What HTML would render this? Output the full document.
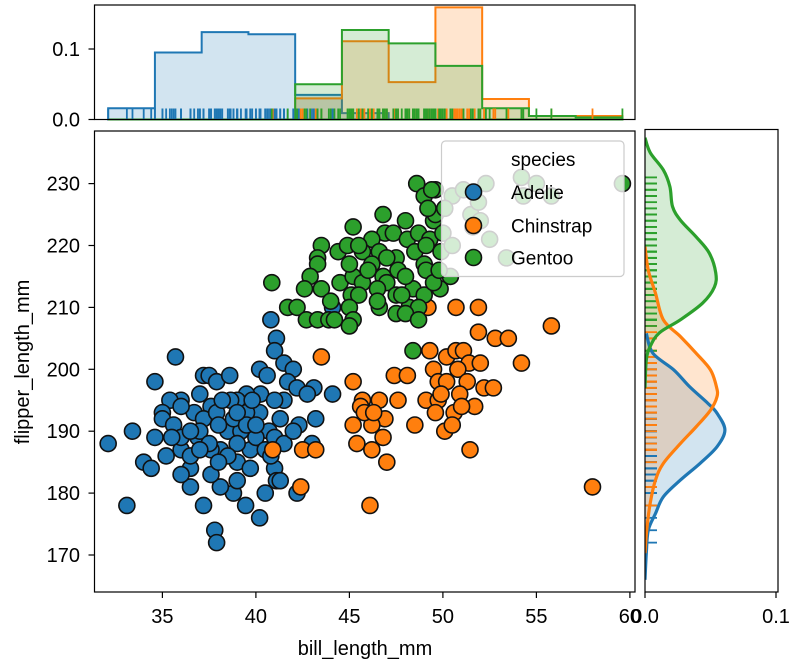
<!DOCTYPE html>
<html><head><meta charset="utf-8"><style>
html,body{margin:0;padding:0;background:#fff;}
svg{display:block;font-family:"Liberation Sans",Arial,sans-serif;}
</style></head><body>
<svg id="chart" width="799" height="666" viewBox="0 0 799 666"></svg>
<script>
// ---- data ----
const adelieX=[32.1,33.1,33.4,34.6,35.7,37.2,37.5,37.9,38.6,40.2,40.6,40.8,41.1,41.0,41.5,42.0,41.7,42.2,43.1,44.1,42.75,41.5,40.25,39.5,39.0,38.65,37.6,36.7,36.0,35.4,35.0,35.0,35.6,34.6,34.0,34.4,35.2,36.0,36.9,37.2,37.9,38.5,39.2,38.1,39.0,39.7,40.7,40.2,41.3,42.3,43.2,41.0,41.1,40.5,40.2,39.45,38.8,38.1,37.6,36.5,36.5,37.2,37.8,37.9,39.7,36.5,37.6,38.8,39.5,41.0,44.1,42.2,41.3,37,38,39,40,36,37.5,38.5,39.5,40.5,36.5,37,38,39,40,41,35.5,36,39.8,38.2,37,40.8,41.5,42,43,39,36];
const adelieY=[188,178,190,198,202,199,199,198,199,200,199,208,205,203,201,200,198,197,197,196,196,195,196,196,195,195,194,193,195,195,193,192,191,189,185,184,186,187,189,192,193,190,190,187,185,184,190,193,192,191,192,184,182,180,176,178,180,181,183,184,181,178,174,172,187,186,187,192,193,195,210,180,182,190,191,188,189,189,188,186,191,187,190,187,185,193,191,189,189,194,195,195,196,186,188,190,188,182,183];
const chinX=[50.7,51.9,49.2,55.8,51.9,52.8,53.5,54.2,43.5,49.3,50.2,50.7,51.1,51.4,52.0,49.5,50.8,47.4,48.1,45.2,49.75,50.2,51.3,52.2,52.7,45.7,46.6,47.6,49.1,49.75,50.9,51.7,49.6,50.6,45.6,46.9,45.2,46.2,48.5,46.8,45.4,46.2,47.0,50.1,51.45,42.5,43.2,42.4,46.1,58.0,50.5,51,49.9,45.8,46.3,40.9];
const chinY=[210,210,210,207,206,205,205,201,202,203,202,203,203,201,201,200,200,199,199,198,198,198,198,197,197,195,195,195,195,195,196,194,193,193,194,192,191,191,191,189,188,187,185,190,187,187,187,181,178,181,191,194,196,193,193,187];
const gentooX=[48.6,49.0,49.6,49.5,49.6,45.2,43.5,46.9,47.35,46.2,48.1,48.7,49.3,44.4,44.9,45.7,46.6,48.5,49.1,43.3,43.3,46.2,47.5,47.6,49.0,49.1,42.9,44.5,45.2,46.8,47.0,45.7,42.6,43.5,46.5,48.4,49.85,40.85,45.1,45.5,47.5,49.0,41.7,42.2,45.0,46.6,48.2,48.7,42.7,43.3,43.9,44.2,45.2,47.5,48.0,48.7,45.0,50.5,51.1,51.5,51.6,52.0,52.5,53.4,51.9,52.3,54.3,50.1,50.0,49.9,50.5,59.6,54.2,55.0,55.8,48.4,46,47,48,45,46.5,47.8,44,45.5,48,49.5,50.4,46.8,49.8,49.2,49.4];
const gentooY=[230,228,229,224,225,223,220,222,222,221,221,222,221,219,220,219,219,219,220,218,217,217,218,216,217,216,215,214,215,215,214,214,213,213,213,213,213,214,212,212,212,212,210,210,210,210,210,210,208,208,208,208,208,209,209,208,207,228,229,225,223,224,221,218,227,230,228,226,222,219,220,230,231,230,228,203,216,218,215,217,211,212,211,220,224,214,215,225,216,226,229];
const histEdges=[32.1,34.6,37.1,39.6,42.1,44.6,47.1,49.6,52.1,54.6,57.1,59.6];
const adelieHist=[0.016,0.095,0.124,0.121,0.035,0.009,0,0,0,0,0];
const chinHist=[0,0,0,0,0.030,0.111,0.053,0.159,0.029,0.005,0.005];
const gentooHist=[0,0,0,0,0.050,0.127,0.108,0.076,0.016,0.005,0.003];
const adelieKdeY=[166,170.3,174,176.7,179.4,182.1,184.8,187.5,190.2,192.9,194.5,197.2,199.9,202.6,205.8];
const adelieKdeD=[0,0.001,0.0025,0.008,0.014,0.027,0.042,0.055,0.061,0.055,0.048,0.034,0.022,0.006,0.001];
const chinKdeY=[170.3,174,178.4,182.1,184.8,188,190.7,193.4,195.6,197.2,199.9,202.6,205.3,208,212.3,216,219.8];
const chinKdeD=[0,0.0013,0.004,0.008,0.014,0.027,0.039,0.050,0.055,0.0545,0.050,0.039,0.027,0.014,0.008,0.0025,0];
const gentooKdeY=[197,201.5,203.7,205.9,208,210.7,213.3,215.6,218.8,221.4,224.1,226.3,229.5,232.2,235,237.4];
const gentooKdeD=[0,0.001,0.004,0.011,0.027,0.044,0.053,0.054,0.049,0.039,0.027,0.021,0.019,0.014,0.004,0];
const xTicks=[35,40,45,50,55,60];
const yTicks=[170,180,190,200,210,220,230];
const histTicks=[0.0,0.1];
const kdeTicks=[0.0,0.1];
const speciesNames=["Adelie","Chinstrap","Gentoo"];

// ---- scales ----
const X=v=>162.4+(v-35)*18.7;
const Y=v=>555-(v-170)*6.19;
const YH=d=>119.5-d*705;
const XK=d=>645+d*1310;
const colors=["#1f77b4","#ff7f0e","#2ca02c"];
const NS="http://www.w3.org/2000/svg";
const svg=document.getElementById("chart");
function mk(tag,attrs,parent){const e=document.createElementNS(NS,tag);for(const k in attrs)e.setAttribute(k,attrs[k]);(parent||svg).appendChild(e);return e;}
function smooth(p){
  let d="M"+p[0][0]+","+p[0][1];
  for(let i=0;i<p.length-1;i++){
    const p0=p[i-1]||p[i],p1=p[i],p2=p[i+1],p3=p[i+2]||p2;
    const c1=[p1[0]+(p2[0]-p0[0])/6,p1[1]+(p2[1]-p0[1])/6];
    const c2=[p2[0]-(p3[0]-p1[0])/6,p2[1]-(p3[1]-p1[1])/6];
    d+=" C"+c1[0]+","+c1[1]+" "+c2[0]+","+c2[1]+" "+p2[0]+","+p2[1];
  }
  return d;
}

const defs=mk("defs",{});
const cp=mk("clipPath",{id:"mainclip"},defs);
mk("rect",{x:94.5,y:131,width:540.5,height:461},cp);
const cpk=mk("clipPath",{id:"kdeclip"},defs);
mk("rect",{x:645,y:129.5,width:133,height:462.5},cpk);

// ---- top histogram ----
const topG=mk("g",{});


[adelieHist,chinHist,gentooHist].forEach((h,si)=>{
  let d="M"+X(histEdges[0])+","+YH(0);
  for(let i=0;i<h.length;i++){d+=" L"+X(histEdges[i])+","+YH(h[i])+" L"+X(histEdges[i+1])+","+YH(h[i]);}
  d+=" L"+X(histEdges[h.length])+","+YH(0)+" Z";
  const p=mk("path",{d:d,fill:colors[si],"fill-opacity":0.2,stroke:colors[si],"stroke-width":2},topG);
  
  
});
[adelieX,chinX,gentooX].forEach((arr,si)=>{
  arr.forEach(v=>{
    const l=mk("line",{x1:X(v),x2:X(v),y1:119.5,y2:108.5,stroke:colors[si],"stroke-width":1.8},topG);
    
    
  });
});
const topFrame=mk("rect",{x:94.5,y:5,width:540.5,height:114.5,fill:"none",stroke:"#000","stroke-width":1.2});


histTicks.forEach(t=>{
  mk("line",{x1:88.5,x2:94.5,y1:YH(t),y2:YH(t),stroke:"#000","stroke-width":1.2});
  const tx=mk("text",{x:80,y:YH(t)+7,"text-anchor":"end","font-size":20});
  tx.textContent=t.toFixed(1);
  
  
});

// ---- right KDE ----
const kG=mk("g",{"clip-path":"url(#kdeclip)"});


const kdeSets=[[adelieKdeY,adelieKdeD],[chinKdeY,chinKdeD],[gentooKdeY,gentooKdeD]];
kdeSets.forEach((c,si)=>{
  const pts=c[0].map((v,i)=>[XK(c[1][i]),Y(v)]);
  const f=mk("path",{d:smooth(pts)+" L"+XK(0)+","+Y(c[0][c[0].length-1])+" L"+XK(0)+","+Y(c[0][0])+" Z",fill:colors[si],"fill-opacity":0.2,stroke:"none"},kG);
  
  
});
[adelieY,chinY,gentooY].forEach((arr,si)=>{
  arr.forEach(v=>{
    const l=mk("line",{x1:645,x2:657,y1:Y(v),y2:Y(v),stroke:colors[si],"stroke-width":1.8},kG);
    
    
  });
});
kdeSets.forEach((c,si)=>{
  const pts=c[0].map((v,i)=>[XK(c[1][i]),Y(v)]);
  const l=mk("path",{d:smooth(pts),fill:"none",stroke:colors[si],"stroke-width":3.2,"stroke-linejoin":"round"},kG);
  
  
});
const rFrame=mk("rect",{x:645,y:129.5,width:133,height:462.5,fill:"none",stroke:"#000","stroke-width":1.2});


kdeTicks.forEach(t=>{
  mk("line",{x1:XK(t),x2:XK(t),y1:592,y2:598,stroke:"#000","stroke-width":1.2});
  const tx=mk("text",{x:XK(t),y:623,"text-anchor":"middle","font-size":20});
  tx.textContent=t.toFixed(1);
  
  
});

// ---- main scatter ----
const mG=mk("g",{"clip-path":"url(#mainclip)"});


[[adelieX,adelieY],[chinX,chinY],[gentooX,gentooY]].forEach((s,si)=>{
  s[0].forEach((v,i)=>{
    const c=mk("circle",{cx:X(v),cy:Y(s[1][i]),r:8,fill:colors[si],stroke:"#111","stroke-width":1.6},mG);
    
    
  });
});
const mFrame=mk("rect",{x:94.5,y:131,width:540.5,height:461,fill:"none",stroke:"#000","stroke-width":1.2});


xTicks.forEach(t=>{
  mk("line",{x1:X(t),x2:X(t),y1:592,y2:598,stroke:"#000","stroke-width":1.2});
  const tx=mk("text",{x:X(t),y:623,"text-anchor":"middle","font-size":20});
  tx.textContent=t;
  
  
});
yTicks.forEach(t=>{
  mk("line",{x1:88.5,x2:94.5,y1:Y(t),y2:Y(t),stroke:"#000","stroke-width":1.2});
  const tx=mk("text",{x:80,y:Y(t)+7,"text-anchor":"end","font-size":20});
  tx.textContent=t;
  
  
});
const xl=mk("text",{x:365,y:655,"text-anchor":"middle","font-size":20});
xl.textContent="bill_length_mm";


const yl=mk("text",{x:0,y:0,"text-anchor":"middle","font-size":20,transform:"translate(29,362) rotate(-90)"});
yl.textContent="flipper_length_mm";



// ---- legend ----
const lg=mk("g",{});


mk("rect",{x:441.5,y:141,width:182.5,height:135.5,rx:4,fill:"#fff","fill-opacity":0.8,stroke:"#ccc","stroke-width":1.2},lg);
const lt=mk("text",{x:511,y:166,"font-size":19},lg);
lt.textContent="species";


const ly=[192,225.5,257.5];
speciesNames.forEach((n,i)=>{
  const e=mk("g",{},lg);
  
  
  mk("circle",{cx:473.5,cy:ly[i],r:8,fill:colors[i],stroke:"#111","stroke-width":1.6},e);
  const t=mk("text",{x:511,y:ly[i]+7,"font-size":19},e);
  t.textContent=n;
});
</script>
</body></html>
